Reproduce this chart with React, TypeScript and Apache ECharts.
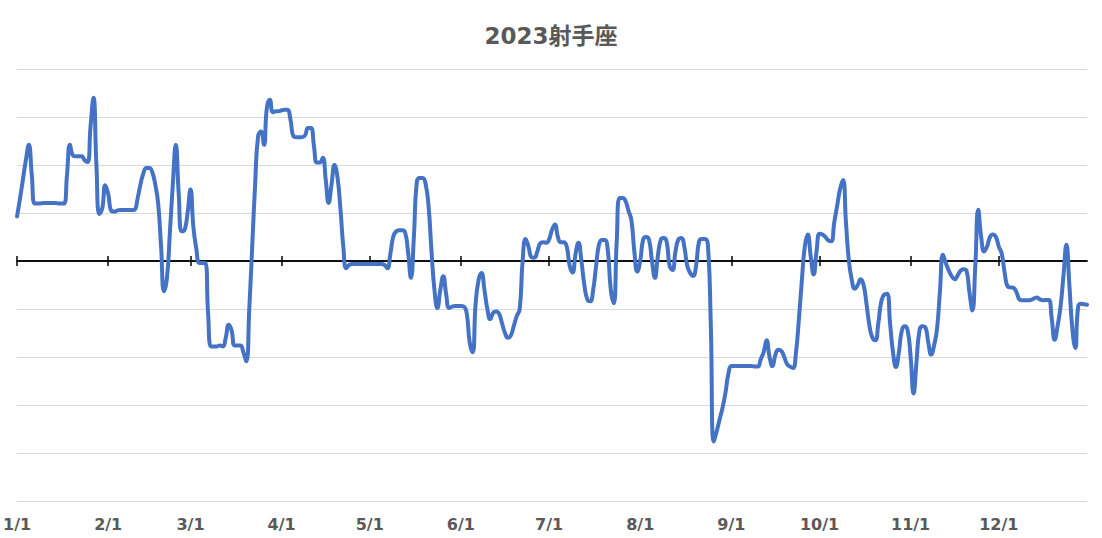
import React, { useEffect, useRef } from "react";
import * as echarts from "echarts";

const title = "2023射手座";
const monthDays = [31, 28, 31, 30, 31, 30, 31, 31, 30, 31, 30, 31];
const categories: string[] = monthDays.flatMap((n, m) =>
  Array.from({ length: n }, (_, i) => `${m + 1}/${i + 1}`)
);

const jan = [0.93, 1.3, 1.7, 2.1, 2.42, 1.8, 1.2, 1.2, 1.2, 1.21, 1.21, 1.21, 1.21, 1.21, 1.2, 1.2, 1.2, 1.8, 2.42, 2.2, 2.18, 2.18, 2.18, 2.1, 2.06, 2.8, 3.4, 2.0, 0.98, 1.1, 1.58];
const feb = [1.4, 1.05, 1.03, 1.05, 1.06, 1.06, 1.06, 1.06, 1.06, 1.07, 1.3, 1.6, 1.83, 1.94, 1.94, 1.85, 1.6, 1.2, 0.3, -0.63, -0.35, 0.6, 1.6, 2.42, 1.4, 0.62, 0.65, 1.0];
const mar = [1.49, 0.7, 0.25, -0.04, -0.04, -0.04, -1.1, -1.78, -1.78, -1.78, -1.76, -1.78, -1.6, -1.33, -1.45, -1.76, -1.76, -1.76, -1.9, -2.09, -1.0, 0.3, 1.6, 2.6, 2.7, 2.42, 3.2, 3.36, 3.1, 3.12, 3.12];
const apr = [3.14, 3.15, 3.15, 2.95, 2.6, 2.58, 2.58, 2.58, 2.62, 2.77, 2.77, 2.4, 2.05, 2.05, 2.15, 1.7, 1.21, 1.6, 2.0, 1.75, 1.1, 0.3, -0.15, -0.08, -0.06, -0.06, -0.06, -0.06, -0.06, -0.06];
const may = [-0.06, -0.06, -0.06, -0.06, -0.06, -0.08, -0.15, 0.15, 0.51, 0.62, 0.64, 0.64, 0.6, 0.2, -0.35, 0.5, 1.65, 1.73, 1.73, 1.6, 1.14, 0.2, -0.6, -0.98, -0.6, -0.32, -0.7, -0.98, -0.95, -0.94, -0.94];
const jun = [-0.94, -0.95, -1.1, -1.7, -1.9, -0.9, -0.4, -0.25, -0.6, -1.0, -1.21, -1.08, -1.05, -1.1, -1.3, -1.5, -1.6, -1.55, -1.35, -1.15, -1.0, 0.0, 0.46, 0.3, 0.08, 0.07, 0.2, 0.37, 0.39, 0.38];
const jul = [0.45, 0.65, 0.76, 0.5, 0.39, 0.39, 0.3, -0.1, -0.24, 0.15, 0.38, 0.0, -0.5, -0.8, -0.84, -0.6, -0.1, 0.35, 0.44, 0.44, 0.2, -0.6, -0.88, 0.4, 1.31, 1.31, 1.25, 1.05, 0.85, 0.2, -0.22];
const aug = [0.0, 0.45, 0.5, 0.44, 0.0, -0.35, 0.1, 0.44, 0.48, 0.4, -0.1, -0.19, 0.2, 0.45, 0.48, 0.3, -0.1, -0.25, -0.31, -0.1, 0.4, 0.46, 0.46, 0.35, -1.3, -3.76, -3.55, -3.3, -3.06, -2.75, -2.35];
const sep = [-2.19, -2.19, -2.19, -2.19, -2.19, -2.19, -2.19, -2.19, -2.2, -2.2, -2.05, -1.9, -1.65, -2.0, -2.19, -1.95, -1.85, -1.87, -2.0, -2.15, -2.2, -2.23, -1.9, -1.2, -0.4, 0.3, 0.55, 0.1, -0.28, 0.2];
const oct = [0.57, 0.55, 0.5, 0.43, 0.41, 0.8, 1.15, 1.5, 1.69, 0.8, 0.0, -0.4, -0.58, -0.5, -0.38, -0.5, -0.9, -1.35, -1.6, -1.65, -1.3, -0.85, -0.7, -0.68, -1.3, -1.9, -2.21, -1.9, -1.45, -1.36, -1.45];
const nov = [-2.0, -2.76, -2.1, -1.45, -1.36, -1.38, -1.7, -1.95, -1.75, -1.4, -0.6, 0.13, -0.05, -0.2, -0.32, -0.38, -0.3, -0.2, -0.17, -0.2, -0.65, -1.03, -0.1, 1.07, 0.5, 0.2, 0.3, 0.5, 0.55, 0.5];
const dec = [0.3, 0.15, -0.25, -0.53, -0.55, -0.56, -0.65, -0.8, -0.82, -0.82, -0.82, -0.81, -0.78, -0.76, -0.8, -0.82, -0.81, -0.81, -1.2, -1.64, -1.35, -0.95, -0.3, 0.34, -0.5, -1.4, -1.81, -0.95, -0.89, -0.9, -0.91];

const values = [...jan, ...feb, ...mar, ...apr, ...may, ...jun, ...jul, ...aug, ...sep, ...oct, ...nov, ...dec];

const isMonthStart = (_i: number, v: string) => String(v).split("/")[1] === "1";

export default function App() {
  const ref = useRef<HTMLDivElement>(null);
  useEffect(() => {
    if (!ref.current) return;
    const chart = echarts.init(ref.current, undefined, { renderer: "svg" });
    const font = "'DejaVu Sans', 'Noto Sans CJK JP', sans-serif";
    chart.setOption({
      animation: false,
      backgroundColor: "#ffffff",
      title: {
        text: title,
        left: "center",
        top: 19,
        textStyle: { fontSize: 23, fontWeight: "bold", color: "#595959", fontFamily: font },
      },
      grid: { left: 15, right: 15, top: 69, bottom: 37, containLabel: false },
      xAxis: [
        {
          type: "category",
          data: categories,
          boundaryGap: false,
          position: "bottom",
          axisLine: { show: false, onZero: false },
          axisTick: { show: false },
          axisLabel: {
            interval: isMonthStart,
            margin: 15,
            fontSize: 16,
            fontWeight: "bold",
            color: "#595959",
            fontFamily: font,
          },
          splitLine: { show: false },
        },
        {
          type: "category",
          data: categories,
          boundaryGap: false,
          position: "bottom",
          axisLine: { show: true, onZero: true, onZeroAxisIndex: 0, lineStyle: { color: "#000000", width: 1.5 } },
          axisTick: { show: true, interval: isMonthStart, length: 5, lineStyle: { color: "#000000", width: 1.5 } },
          axisLabel: { show: false },
          splitLine: { show: false },
        },
        {
          type: "category",
          data: categories,
          boundaryGap: false,
          position: "top",
          axisLine: { show: true, onZero: true, onZeroAxisIndex: 0, lineStyle: { color: "#000000", width: 1.5 } },
          axisTick: { show: true, interval: isMonthStart, length: 5, lineStyle: { color: "#000000", width: 1.5 } },
          axisLabel: { show: false },
          splitLine: { show: false },
        },
      ],
      yAxis: {
        type: "value",
        min: -5,
        max: 4,
        interval: 1,
        axisLine: { show: false },
        axisTick: { show: false },
        axisLabel: { show: false },
        splitLine: { show: true, lineStyle: { color: "#d9d9d9", width: 1 } },
      },
      series: [
        {
          type: "line",
          xAxisIndex: 0,
          data: values,
          smooth: 0.5,
          symbol: "none",
          lineStyle: { color: "#4472C4", width: 4, cap: "round", join: "round" },
          z: 3,
        },
      ],
    });
    return () => chart.dispose();
  }, []);
  return <div ref={ref} style={{ position: "fixed", left: 0, top: 0, width: 1102, height: 538 }} />;
}
